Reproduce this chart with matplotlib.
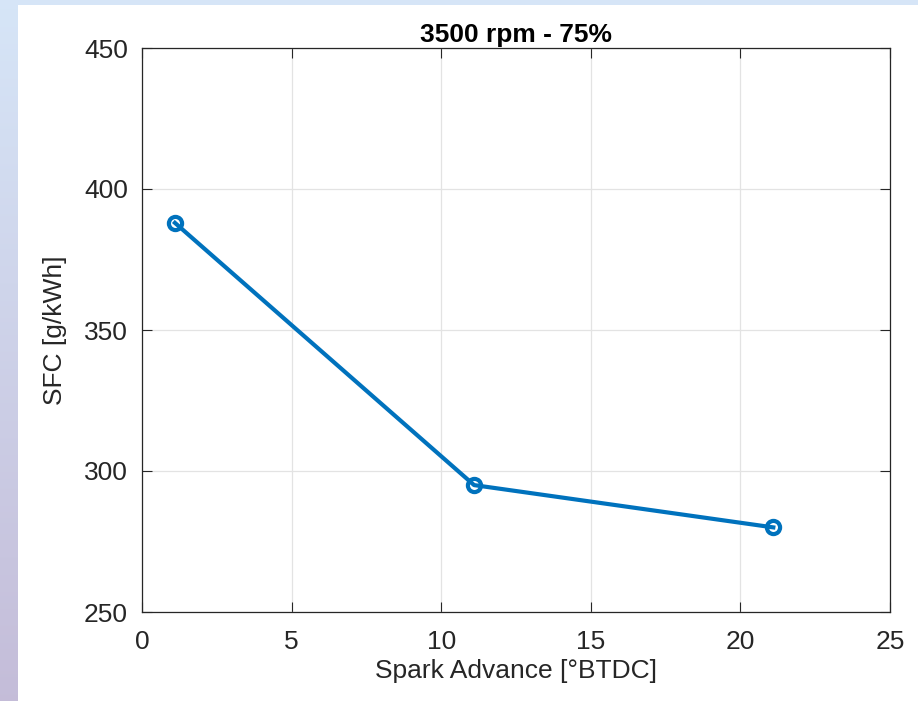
import numpy as np
import matplotlib.pyplot as plt

plt.rcParams['font.family'] = ['Liberation Sans', 'DejaVu Sans']

spark_advance = [1.1, 11.1, 21.1]
sfc = [388, 295, 280]

x_ticks = [0, 5, 10, 15, 20, 25]
y_ticks = [250, 300, 350, 400, 450]

W, H = 918, 701
fig = plt.figure(figsize=(W / 100, H / 100), dpi=100)

# window border from the screenshot (gradient on left, thin strip on top)
bg = fig.add_axes([0, 0, 1, 1])
grad = np.linspace(0, 1, 256).reshape(-1, 1)
top_col = np.array([0.84, 0.90, 0.97])
bot_col = np.array([0.77, 0.74, 0.85])
img = top_col + (bot_col - top_col) * grad[:, :, None]
bg.imshow(img, aspect='auto', extent=[0, 1, 0, 1])
bg.add_patch(plt.Rectangle((18 / W, 0), 1, 1 - 5 / H, color='white', lw=0))
bg.set_xlim(0, 1)
bg.set_ylim(0, 1)
bg.axis('off')

ax = fig.add_axes([142 / W, 1 - 612 / H, (890 - 142) / W, (612 - 48) / H])
ax.plot(spark_advance, sfc, color='#0072BD', lw=3, marker='o',
        markersize=9.5, markerfacecolor='none', markeredgewidth=3)

ax.set_xlim(0, 25)
ax.set_ylim(250, 450)
ax.set_xticks(x_ticks)
ax.set_yticks(y_ticks)
ax.grid(True, color='#e3e3e3', lw=0.9)
ax.set_axisbelow(True)
ax.tick_params(direction='in', top=True, right=True, labelsize=19,
               colors='#262626', length=7, width=0.8)
ax.tick_params(axis='y', pad=10)
ax.tick_params(axis='x', pad=13)
for s in ax.spines.values():
    s.set_color('#262626')
    s.set_linewidth(0.9)

ax.set_xlabel('Spark Advance [°BTDC]', fontsize=19, color='#262626')
ax.set_ylabel('SFC [g/kWh]', fontsize=19, color='#262626')
ax.xaxis.set_label_coords(0.5, (612 - 659) / 564)
ax.yaxis.set_label_coords((67 - 142) / 748, 0.5)
ax.set_title('3500 rpm - 75%', fontsize=19, fontweight='bold', pad=4.5)

fig.savefig('out.png', dpi=100)
